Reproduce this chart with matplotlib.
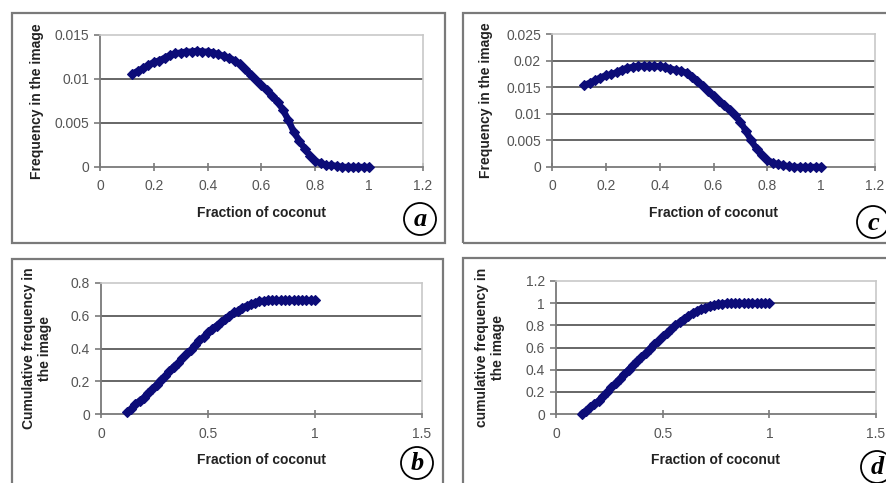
import matplotlib
matplotlib.use("Agg")
import matplotlib.pyplot as plt
from matplotlib.patches import Rectangle, Ellipse

plt.rcParams['font.family'] = ['Liberation Sans', 'DejaVu Sans']

# ---------------- data ----------------
fraction = [0.12, 0.14, 0.16, 0.18, 0.20, 0.22, 0.24, 0.26, 0.28, 0.30,
            0.32, 0.34, 0.36, 0.38, 0.40, 0.42, 0.44, 0.46, 0.48, 0.50,
            0.52, 0.54, 0.56, 0.58, 0.60, 0.62, 0.64, 0.66, 0.68, 0.70,
            0.72, 0.74, 0.76, 0.78, 0.80, 0.82, 0.84, 0.86, 0.88, 0.90,
            0.92, 0.94, 0.96, 0.98, 1.00]

freq_a = [0.0106, 0.0109, 0.0112, 0.0116, 0.0119, 0.0121, 0.0124, 0.0127, 0.0129, 0.0130,
          0.0131, 0.0131, 0.0132, 0.0131, 0.0131, 0.0130, 0.0128, 0.0126, 0.0124, 0.0121,
          0.0117, 0.0111, 0.0105, 0.0099, 0.0093, 0.0087, 0.0081, 0.0074, 0.0065, 0.0053,
          0.0040, 0.0030, 0.0021, 0.0013, 0.0007, 0.0004, 0.0002, 0.0002, 0.0001, 0.0000,
          0.0000, 0.0000, 0.0000, 0.0000, 0.0000]

freq_c = [0.0154, 0.0158, 0.0163, 0.0168, 0.0172, 0.0174, 0.0178, 0.0183, 0.0186, 0.0188,
          0.0190, 0.0190, 0.0190, 0.0190, 0.0189, 0.0188, 0.0185, 0.0182, 0.0180, 0.0177,
          0.0170, 0.0162, 0.0152, 0.0142, 0.0133, 0.0125, 0.0117, 0.0108, 0.0097, 0.0085,
          0.0068, 0.0050, 0.0034, 0.0022, 0.0013, 0.0008, 0.0005, 0.0003, 0.0001, 0.0000,
          0.0000, 0.0000, 0.0000, 0.0000, 0.0000]

cum_b = [0.01, 0.03, 0.06, 0.08, 0.10, 0.13, 0.15, 0.18, 0.21, 0.23,
         0.26, 0.29, 0.31, 0.34, 0.37, 0.39, 0.42, 0.45, 0.47, 0.50,
         0.52, 0.54, 0.56, 0.58, 0.60, 0.62, 0.63, 0.65, 0.66, 0.67,
         0.68, 0.69, 0.69, 0.695, 0.695, 0.695, 0.695, 0.695, 0.695, 0.695,
         0.695, 0.695, 0.695, 0.695, 0.695]

cum_d = [0.00, 0.03, 0.06, 0.09, 0.12, 0.16, 0.20, 0.24, 0.28, 0.32,
         0.36, 0.40, 0.44, 0.48, 0.51, 0.55, 0.59, 0.63, 0.66, 0.70,
         0.73, 0.77, 0.80, 0.83, 0.86, 0.88, 0.91, 0.93, 0.95, 0.96,
         0.975, 0.985, 0.99, 0.995, 1.00, 1.00, 1.00, 1.00, 1.00, 1.00,
         1.00, 1.00, 1.00, 1.00, 1.00]

xticks_top = [0, 0.2, 0.4, 0.6, 0.8, 1, 1.2]
xlabels_top = ['0', '0.2', '0.4', '0.6', '0.8', '1', '1.2']
xticks_bot = [0, 0.5, 1, 1.5]
xlabels_bot = ['0', '0.5', '1', '1.5']
yticks_a = [0, 0.005, 0.01, 0.015]
ylabels_a = ['0', '0.005', '0.01', '0.015']
yticks_c = [0, 0.005, 0.01, 0.015, 0.02, 0.025]
ylabels_c = ['0', '0.005', '0.01', '0.015', '0.02', '0.025']
yticks_b = [0, 0.2, 0.4, 0.6, 0.8]
ylabels_b = ['0', '0.2', '0.4', '0.6', '0.8']
yticks_d = [0, 0.2, 0.4, 0.6, 0.8, 1, 1.2]
ylabels_d = ['0', '0.2', '0.4', '0.6', '0.8', '1', '1.2']

# ---------------- figure ----------------
W, H = 887, 483
fig = plt.figure(figsize=(W / 100, H / 100), dpi=100)
fig.patch.set_facecolor('white')


def px_rect(x0, y0, x1, y1):
    """convert pixel box (top-left origin) to figure fraction [l, b, w, h]"""
    return [x0 / W, 1 - y1 / H, (x1 - x0) / W, (y1 - y0) / H]


# outer chart frames
for (x0, y0, x1, y1) in [(12, 13, 445, 243), (463, 13, 895, 243),
                         (12, 259, 443, 495), (463, 258, 895, 495)]:
    l, b, w, h = px_rect(x0, y0, x1, y1)
    fig.patches.append(Rectangle((l, b), w, h, transform=fig.transFigure,
                                 fill=False, edgecolor='#7a7a7a', linewidth=1.6,
                                 clip_on=False))

NAVY = '#0c0c78'
TICKC = '#555555'


def make_panel(box, x, y, xt, xl, yt, yl, ylabel, letter, letter_c, xlim, ylim, ylab_x):
    ax = fig.add_axes(px_rect(*box))
    ax.plot(x, y, color=NAVY, linewidth=4.6, marker='D', markersize=4.6,
            markeredgewidth=0.8, solid_capstyle='round', clip_on=False, zorder=5)
    ax.set_xlim(*xlim)
    ax.set_ylim(*ylim)
    ax.set_xticks(xt)
    ax.set_xticklabels(xl)
    ax.set_yticks(yt)
    ax.set_yticklabels(yl)
    for s in ['top', 'right']:
        ax.spines[s].set_color('#c8c8c8')
        ax.spines[s].set_linewidth(1.2)
    for s in ['left', 'bottom']:
        ax.spines[s].set_color('#7a7a7a')
        ax.spines[s].set_linewidth(1.3)
    for v in yt[1:-1]:
        ax.axhline(v, color='#5a5a5a', linewidth=1.3, zorder=1)
    ax.tick_params(axis='x', direction='inout', length=6, width=1.2, color='#7a7a7a',
                   labelsize=10, labelcolor=TICKC, pad=6)
    ax.tick_params(axis='y', direction='out', length=4, width=1.2, color='#7a7a7a',
                   labelsize=10, labelcolor=TICKC, pad=4)
    ax.set_xlabel('Fraction of coconut', fontsize=10, fontweight='bold',
                  color='#222222', labelpad=9)
    cy = 1 - (box[1] + box[3]) / 2 / H
    fig.text(ylab_x / W, cy, ylabel, rotation=90, ha='center', va='center',
             fontsize=10, fontweight='bold', color='#222222', linespacing=1.1,
             multialignment='center')
    cx, cyy = letter_c
    fig.patches.append(Ellipse((cx / W, 1 - cyy / H), 32 / W, 32 / H,
                               transform=fig.transFigure, fill=False,
                               edgecolor='black', linewidth=1.3, clip_on=False))
    fig.text(cx / W, 1 - (cyy + 1) / H, letter, ha='center', va='center',
             fontsize=19, fontweight='bold', style='italic',
             family='Liberation Serif', color='black')
    return ax


make_panel((100, 35, 423, 167), fraction, freq_a, xticks_top, xlabels_top,
           yticks_a, ylabels_a, 'Frequency in the image', 'a', (420, 219),
           (0, 1.2), (0, 0.015), 37)
make_panel((552, 34, 875, 167), fraction, freq_c, xticks_top, xlabels_top,
           yticks_c, ylabels_c, 'Frequency in the image', 'c', (873, 222),
           (0, 1.2), (0, 0.025), 486)
make_panel((101, 283, 422, 414), fraction, cum_b, xticks_bot, xlabels_bot,
           yticks_b, ylabels_b, 'Cumulative frequency in\nthe image', 'b', (417, 463),
           (0, 1.5), (0, 0.8), 37)
make_panel((556, 281, 876, 414), fraction, cum_d, xticks_bot, xlabels_bot,
           yticks_d, ylabels_d, 'cumulative frequency in\nthe image', 'd', (877, 467),
           (0, 1.5), (0, 1.2), 490)

fig.savefig('out.png', dpi=100, facecolor='white')
